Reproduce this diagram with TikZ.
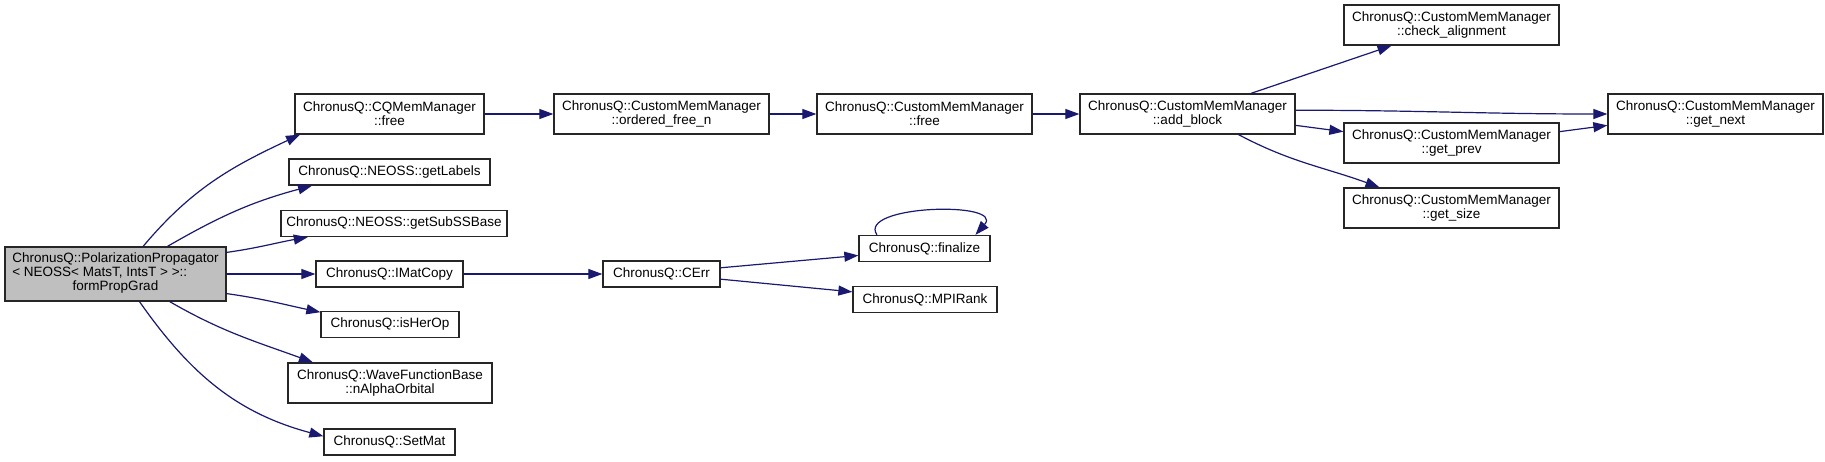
\documentclass[tikz,border=0pt]{standalone}
\usepackage{fontspec}
\setmainfont{Liberation Sans}
\usetikzlibrary{arrows.meta}
\definecolor{edgeblue}{HTML}{191970}
\definecolor{maingrey}{HTML}{BFBFBF}

\tikzset{
  fn/.style={draw=black!85, line width=1.3pt, rectangle, inner sep=0pt,
    minimum height=26pt, font=\fontsize{13.5}{14}\selectfont, align=center},
  fn2/.style={fn, minimum height=40pt},
  call/.style={draw=edgeblue, line width=1.2pt, -{Triangle[length=14pt,width=10pt]}},
}

\begin{document}
\begin{tikzpicture}[x=1pt,y=1pt]
        \useasboundingbox (0,0) rectangle (1825,-461);
        % caller
        \node[fn, fill=maingrey, minimum width=221pt, minimum height=54pt] (main) at (115.5,-274)
          {\begin{tabular}{@{}l@{}}ChronusQ::PolarizationPropagator\\< NEOSS< MatsT, IntsT > >::\\\multicolumn{1}{@{}c@{}}{formPropGrad}\end{tabular}};
        % first column
        \node[fn2, minimum width=189pt] (cqfree) at (389.5,-114) {ChronusQ::CQMemManager\\::free};
        \node[fn, minimum width=201pt] (labels) at (389.5,-172) {ChronusQ::NEOSS::getLabels};
        \node[fn, minimum width=226pt] (subss) at (394,-223.5) {ChronusQ::NEOSS::getSubSSBase};
        \node[fn, minimum width=147pt] (imat) at (389.5,-274) {ChronusQ::IMatCopy};
        \node[fn, minimum width=138pt] (isher) at (390,-324.5) {ChronusQ::isHerOp};
        \node[fn2, minimum width=204pt] (nalpha) at (390,-383) {ChronusQ::WaveFunctionBase\\::nAlphaOrbital};
        \node[fn, minimum width=131pt] (setmat) at (389.5,-442) {ChronusQ::SetMat};
        % second column
        \node[fn2, minimum width=215pt] (ordered) at (661.5,-114) {ChronusQ::CustomMemManager\\::ordered\_free\_n};
        \node[fn, minimum width=117pt] (cerr) at (661.5,-274) {ChronusQ::CErr};
        % third column
        \node[fn2, minimum width=215pt] (cfree) at (924.5,-114) {ChronusQ::CustomMemManager\\::free};
        \node[fn, minimum width=131pt] (finalize) at (924.5,-248.5) {ChronusQ::finalize};
        \node[fn, minimum width=144pt] (mpirank) at (925,-299.5) {ChronusQ::MPIRank};
        % memory manager
        \node[fn2, minimum width=215pt] (addblock) at (1187.5,-114) {ChronusQ::CustomMemManager\\::add\_block};
        \node[fn2, minimum width=215pt] (checkal) at (1451.5,-25) {ChronusQ::CustomMemManager\\::check\_alignment};
        \node[fn2, minimum width=215pt] (getprev) at (1451.5,-143) {ChronusQ::CustomMemManager\\::get\_prev};
        \node[fn2, minimum width=215pt] (getsize) at (1451.5,-208) {ChronusQ::CustomMemManager\\::get\_size};
        \node[fn2, minimum width=215pt] (getnext) at (1715.5,-114) {ChronusQ::CustomMemManager\\::get\_next};

        \draw[call] (main.45) to[out=50,in=205] (cqfree.193);
        \draw[call] (main.28) to[out=30,in=195] (labels.190);
        \draw[call] (main.11) to[out=8,in=190] (subss.189);
        \draw[call] (main.east) -- (imat.west);
        \draw[call] (main.-10) to[out=-8,in=168] (isher.170);
        \draw[call] (main.-27) to[out=-30,in=160] (nalpha.165);
        \draw[call] (main.-49) to[out=-55,in=165] (setmat.175);

        \draw[call] (cqfree.east) -- (ordered.west);
        \draw[call] (ordered.east) -- (cfree.west);
        \draw[call] (cfree.east) -- (addblock.west);
        \draw[call] (imat.east) -- (cerr.west);
        \draw[call] (cerr.6) -- (finalize.186);
        \draw[call] (cerr.-5) -- (mpirank.174);
        \draw[call] (finalize.164) .. controls +(-20,30) and +(30,34) .. (finalize.15);

        \draw[call] (addblock.18) -- (checkal.199);
        \draw[call] (addblock.2) to[out=0,in=180] (getnext.west);
        \draw[call] (addblock.-6) -- (getprev.174);
        \draw[call] (getprev.6) -- (getnext.186);
        \draw[call] (addblock.-22) to[out=-28,in=160] (getsize.164);
\end{tikzpicture}
\end{document}
